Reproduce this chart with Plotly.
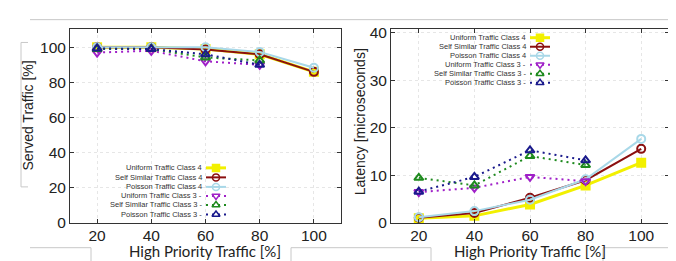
import plotly.graph_objects as go

W, H = 676, 261

# ---------------- data ----------------
load = [20, 40, 60, 80, 100]
load_c3 = [20, 40, 60, 80]

series_names = [
    "Uniform Traffic Class 4",
    "Self Similar Traffic Class 4",
    "Poisson Traffic Class 4",
    "Uniform Traffic Class 3",
    "Self Similar Traffic Class 3",
    "Poisson Traffic Class 3",
]

served_uniform_c4 = [100, 100, 99, 96, 86]
served_selfsim_c4 = [100, 100, 98.7, 96, 86]
served_poisson_c4 = [100, 100, 100, 97.3, 88.3]
served_uniform_c3 = [97, 98, 92, 90]
served_selfsim_c3 = [99, 99, 94.2, 92.5]
served_poisson_c3 = [99.3, 99, 96, 90]

lat_uniform_c4 = [1.0, 1.5, 3.9, 7.9, 12.7]
lat_selfsim_c4 = [1.1, 2.1, 5.3, 9.0, 15.6]
lat_poisson_c4 = [1.2, 2.5, 4.9, 9.2, 17.7]
lat_uniform_c3 = [6.5, 7.4, 9.7, 8.8]
lat_selfsim_c3 = [9.5, 7.9, 14.1, 12.2]
lat_poisson_c3 = [6.6, 9.7, 15.3, 13.2]

x_ticks = [20, 40, 60, 80, 100]
served_ticks = [0, 20, 40, 60, 80, 100]
lat_ticks = [0, 10, 20, 30, 40]

x_title = "High Priority Traffic [%]"
served_title = "Served Traffic [%]"
lat_title = "Latency [microseconds]"

# ---------------- styles ----------------
DOTS = "2px,4px"
styles = [
    dict(color="#f2f000", dash="solid", width=3, symbol="square", msize=8),
    dict(color="#8b1010", dash="solid", width=2, symbol="circle-open", msize=8),
    dict(color="#a8d8e8", dash="solid", width=2, symbol="circle-open", msize=8),
    dict(color="#a020c8", dash=DOTS, width=2, symbol="triangle-down-open", msize=8),
    dict(color="#1e8a1e", dash=DOTS, width=2, symbol="triangle-up-open", msize=8),
    dict(color="#1a1a8c", dash=DOTS, width=2, symbol="triangle-up-open", msize=8),
]


def px(x):
    return x / W


def py(y):
    return 1 - y / H


fig = go.Figure()

served = [served_uniform_c4, served_selfsim_c4, served_poisson_c4,
          served_uniform_c3, served_selfsim_c3, served_poisson_c3]
latency = [lat_uniform_c4, lat_selfsim_c4, lat_poisson_c4,
           lat_uniform_c3, lat_selfsim_c3, lat_poisson_c3]

for xa, ya, data in (("x", "y", served), ("x2", "y2", latency)):
    for i, (name, vals) in enumerate(zip(series_names, data)):
        s = styles[i]
        xs = load if len(vals) == 5 else load_c3
        fig.add_trace(go.Scatter(
            x=xs, y=vals, name=name, xaxis=xa, yaxis=ya, mode="lines+markers",
            line=dict(color=s["color"], width=s["width"], dash=s["dash"]),
            marker=dict(symbol=s["symbol"], size=s["msize"], color=s["color"],
                        line=dict(color=s["color"], width=2)),
            showlegend=False,
        ))

# ---------------- manual legends (pixel overlay axis) ----------------
legend_specs = [
    dict(text_right=196, sample_x0=198, sample_x1=218, rows=[163, 173, 183, 192.5, 202, 212]),
    dict(text_right=520, sample_x0=522, sample_x1=542, rows=[26, 35.5, 45, 54.5, 64, 73.5]),
]
annotations = []
for spec in legend_specs:
    for i, (name, row) in enumerate(zip(series_names, spec["rows"])):
        s = styles[i]
        suffix = " -" if s["dash"] != "solid" else ""
        annotations.append(dict(
            x=px(spec["text_right"]), y=py(row), xref="paper", yref="paper",
            text=name + suffix, showarrow=False, xanchor="right", yanchor="middle",
            font=dict(family="Liberation Sans, Arial", size=7.5, color="#333333"),
        ))
        xm = (spec["sample_x0"] + spec["sample_x1"]) / 2
        fig.add_trace(go.Scatter(
            x=[spec["sample_x0"], xm, spec["sample_x1"]], y=[row, row, row],
            xaxis="x3", yaxis="y3", mode="lines",
            line=dict(color=s["color"], width=s["width"], dash=s["dash"]),
            showlegend=False, hoverinfo="skip",
        ))
        fig.add_trace(go.Scatter(
            x=[xm], y=[row], xaxis="x3", yaxis="y3", mode="markers",
            marker=dict(symbol=s["symbol"], size=7, color=s["color"],
                        line=dict(color=s["color"], width=1.5)),
            showlegend=False, hoverinfo="skip",
        ))

# axis titles as positioned text
title_font_x = dict(family="Lato, Open Sans", size=15, color="#222222")
title_font_y = dict(family="Liberation Sans, Arial", size=14, color="#222222")
annotations += [
    dict(x=px(197), y=py(250), xref="paper", yref="paper", text=x_title, showarrow=False,
         xanchor="center", yanchor="middle", font=title_font_x),
    dict(x=px(522), y=py(250), xref="paper", yref="paper", text=x_title, showarrow=False,
         xanchor="center", yanchor="middle", font=title_font_x),
    dict(x=px(20), y=py(108), xref="paper", yref="paper", text=served_title, showarrow=False,
         textangle=-90, xanchor="center", yanchor="middle", font=title_font_y),
    dict(x=px(352), y=py(115), xref="paper", yref="paper", text=lat_title, showarrow=False,
         textangle=-90, xanchor="center", yanchor="middle", font=title_font_y),
]

# ---------------- decorative light frame lines ----------------
frame = "#c8c8c8"
seg = [
    (22, 7, 676, 7),
    (13, 31, 13, 183),
    (13, 31, 20, 31),
    (13, 183, 20, 183),
    (22, 247, 83, 247), (83, 247, 83, 261),
    (283, 247, 340, 247), (283, 247, 283, 261),
    (340, 247, 423, 247), (423, 247, 423, 261),
    (595, 247, 676, 247), (595, 247, 595, 261),
]
shapes = [dict(type="line", xref="paper", yref="paper",
               x0=px(a), y0=py(b), x1=px(c), y1=py(d), layer="below",
               line=dict(color=frame, width=1)) for a, b, c, d in seg]

tickfont = dict(family="Liberation Sans, Arial", size=15.5, color="#222222")
axis_common = dict(
    showline=True, linecolor="#333333", linewidth=1, mirror="ticks",
    ticks="inside", ticklen=4, tickcolor="#333333",
    showgrid=True, gridcolor="#e6e6e6", griddash="dot", gridwidth=1,
    zeroline=False, tickfont=tickfont,
)

fig.update_layout(
    width=W, height=H, margin=dict(l=0, r=0, t=0, b=0),
    paper_bgcolor="white", plot_bgcolor="rgba(0,0,0,0)",
    showlegend=False,
    xaxis=dict(domain=[px(62), px(333)], range=[10, 110], tickvals=x_ticks,
               anchor="y", ticklabelstandoff=-2, **axis_common),
    yaxis=dict(domain=[py(221), py(17)], range=[0, 110.3], tickvals=served_ticks,
               anchor="x", **axis_common),
    xaxis2=dict(domain=[px(383), px(661)], range=[10, 110], tickvals=x_ticks,
                anchor="y2", ticklabelstandoff=-2, **axis_common),
    yaxis2=dict(domain=[py(221), py(17)], range=[0, 40.8], tickvals=lat_ticks,
                anchor="x2", **axis_common),
    xaxis3=dict(domain=[0, 1], range=[0, W], visible=False, fixedrange=True, anchor="y3",
                showgrid=False),
    yaxis3=dict(domain=[0, 1], range=[H, 0], visible=False, fixedrange=True, anchor="x3",
                showgrid=False),
    annotations=annotations,
    shapes=shapes,
)

fig.write_html("out.html")
